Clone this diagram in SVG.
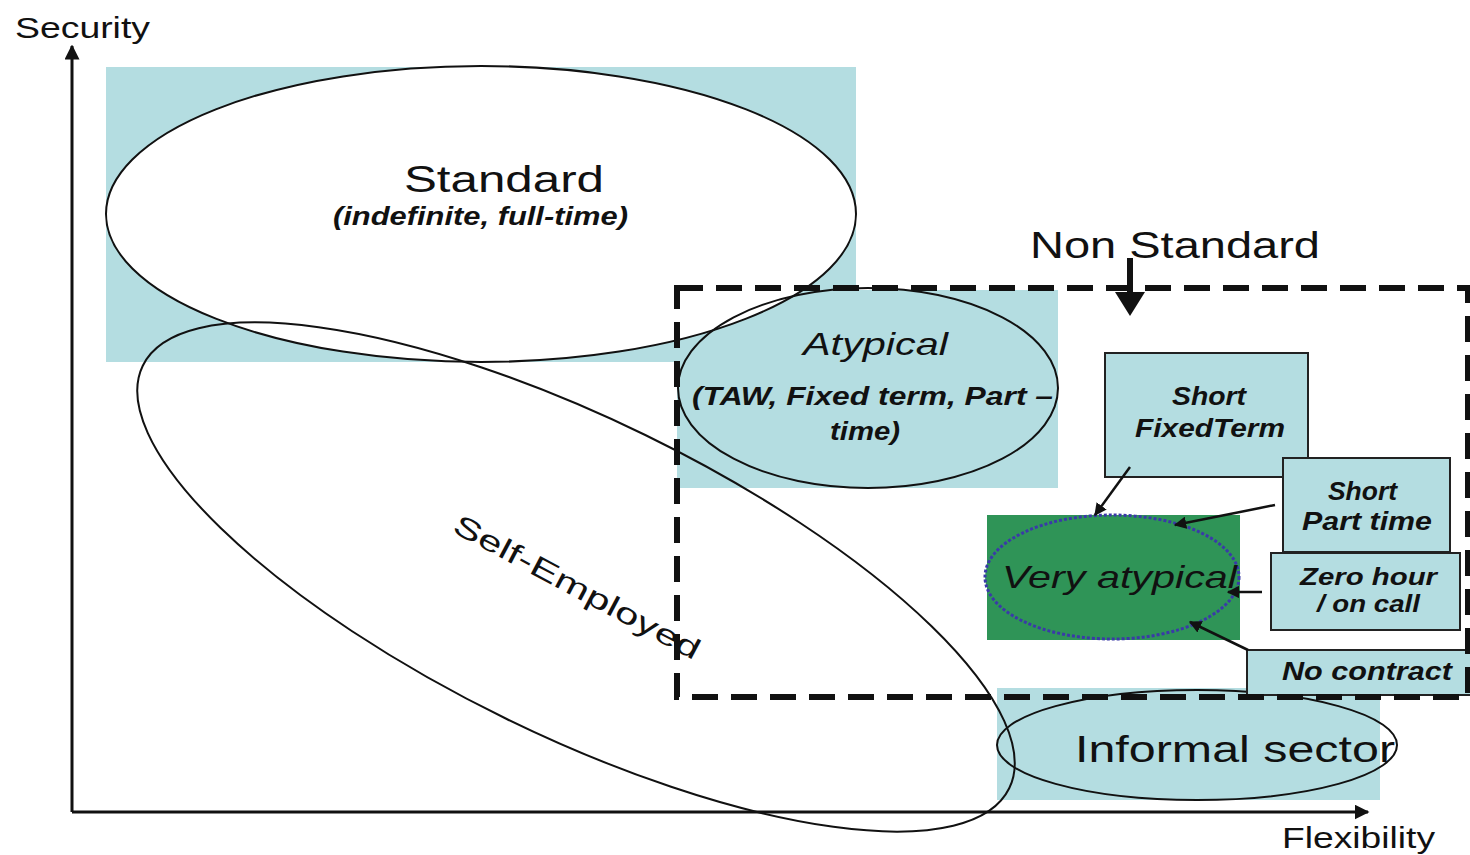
<svg xmlns="http://www.w3.org/2000/svg" width="1470" height="855" viewBox="0 0 1470 855">
<defs>
<style>
.bg{fill:#b4dde1}
.t{font-family:"Liberation Sans",Arial,sans-serif;fill:#111}
.bi{font-style:italic;font-weight:bold}
.ol{fill:none;stroke:#111;stroke-width:2}
.box{fill:#b4dde1;stroke:#222;stroke-width:2}
.con{stroke:#111;stroke-width:2.5;fill:none}
</style>
<marker id="ah" viewBox="0 0 10 10" refX="9" refY="5" markerWidth="5" markerHeight="5" orient="auto"><path d="M0,0 L10,5 L0,10 z" fill="#111"/></marker>
<marker id="axh" viewBox="0 0 10 10" refX="9" refY="5" markerWidth="5" markerHeight="5" orient="auto"><path d="M0,0 L10,5 L0,10 z" fill="#111"/></marker>
</defs>
<rect width="1470" height="855" fill="#fff"/>
<g id="backgrounds">
<rect class="bg" x="106" y="67" width="750" height="295"/>
<rect class="bg" x="677" y="290" width="381" height="198"/>
<rect class="bg" x="997" y="688" width="383" height="112"/>
</g>
<g id="axes">
<line x1="72" y1="812" x2="72" y2="46" stroke="#111" stroke-width="3" marker-end="url(#axh)"/>
<line x1="72" y1="812" x2="1368" y2="812" stroke="#111" stroke-width="3" marker-end="url(#axh)"/>
<text class="t" x="15" y="38" font-size="29" textLength="135" lengthAdjust="spacingAndGlyphs">Security</text>
<text class="t" x="1282" y="848" font-size="29" textLength="153" lengthAdjust="spacingAndGlyphs">Flexibility</text>
</g>
<g id="standard">
<ellipse cx="481" cy="214" rx="375" ry="148" fill="#fff" stroke="#111" stroke-width="2"/>
<text class="t" x="404" y="192" font-size="36" textLength="200" lengthAdjust="spacingAndGlyphs">Standard</text>
<text class="t bi" x="333" y="225" font-size="25" textLength="295" lengthAdjust="spacingAndGlyphs">(indefinite, full-time)</text>
</g>
<g id="atypical">
<ellipse class="ol" cx="868" cy="388" rx="190" ry="100"/>
<text class="t" x="803" y="355" font-size="32" font-style="italic" textLength="145" lengthAdjust="spacingAndGlyphs">Atypical</text>
<text class="t bi" x="692" y="405" font-size="26" textLength="361" lengthAdjust="spacingAndGlyphs">(TAW, Fixed term, Part –</text>
<text class="t bi" x="830" y="440" font-size="26" textLength="70" lengthAdjust="spacingAndGlyphs">time)</text>
</g>
<g id="self-employed">
<ellipse class="ol" cx="576" cy="577" rx="482" ry="158" transform="rotate(26 576 577)"/>
<text class="t" x="577" y="597" font-size="29" text-anchor="middle" transform="rotate(28 577 587)" textLength="275" lengthAdjust="spacingAndGlyphs">Self-Employed</text>
</g>
<g id="informal">
<ellipse class="ol" cx="1197" cy="745" rx="200" ry="55"/>
<text class="t" x="1075" y="762" font-size="36" textLength="320" lengthAdjust="spacingAndGlyphs">Informal sector</text>
</g>
<g id="very-atypical">
<rect x="987" y="515" width="253" height="125" fill="#2f9457"/>
<ellipse cx="1112" cy="577" rx="127" ry="62" fill="#2f9457" stroke="#3a3aa8" stroke-width="3" stroke-dasharray="3 2"/>
<text class="t" x="1002" y="588" font-size="32" font-style="italic" fill="#102a18" textLength="235" lengthAdjust="spacingAndGlyphs">Very atypical</text>
</g>
<g id="short-fixed-term">
<rect class="box" x="1105" y="353" width="203" height="124"/>
<text class="t bi" x="1172" y="405" font-size="25" textLength="74" lengthAdjust="spacingAndGlyphs">Short</text>
<text class="t bi" x="1135" y="437" font-size="25" textLength="150" lengthAdjust="spacingAndGlyphs">FixedTerm</text>
</g>
<g id="short-part-time">
<rect class="box" x="1283" y="458" width="167" height="94"/>
<text class="t bi" x="1328" y="500" font-size="25" textLength="69" lengthAdjust="spacingAndGlyphs">Short</text>
<text class="t bi" x="1302" y="530" font-size="25" textLength="130" lengthAdjust="spacingAndGlyphs">Part time</text>
</g>
<g id="zero-hour">
<rect class="box" x="1271" y="553" width="189" height="77"/>
<text class="t bi" x="1300" y="585" font-size="24" textLength="137" lengthAdjust="spacingAndGlyphs">Zero hour</text>
<text class="t bi" x="1317" y="612" font-size="24" textLength="103" lengthAdjust="spacingAndGlyphs">/ on call</text>
</g>
<g id="no-contract">
<rect class="box" x="1247" y="650" width="230" height="45"/>
<text class="t bi" x="1282" y="680" font-size="25" textLength="170" lengthAdjust="spacingAndGlyphs">No contract</text>
</g>
<g id="non-standard">
<rect x="677" y="288" width="791" height="409" fill="none" stroke="#111" stroke-width="6" stroke-dasharray="26 13"/>
<text class="t" x="1030" y="258" font-size="36" textLength="290" lengthAdjust="spacingAndGlyphs">Non Standard</text>
</g>
<g id="connectors">
<line x1="1130" y1="258" x2="1130" y2="295" stroke="#111" stroke-width="6"/>
<path d="M1115,292 L1145,292 L1130,316 z" fill="#111"/>
<line class="con" x1="1130" y1="467" x2="1095" y2="515" marker-end="url(#ah)"/>
<line class="con" x1="1275" y1="505" x2="1175" y2="525" marker-end="url(#ah)"/>
<line class="con" x1="1262" y1="592" x2="1228" y2="592" marker-end="url(#ah)"/>
<line class="con" x1="1248" y1="650" x2="1190" y2="622" marker-end="url(#ah)"/>
</g>
</svg>
